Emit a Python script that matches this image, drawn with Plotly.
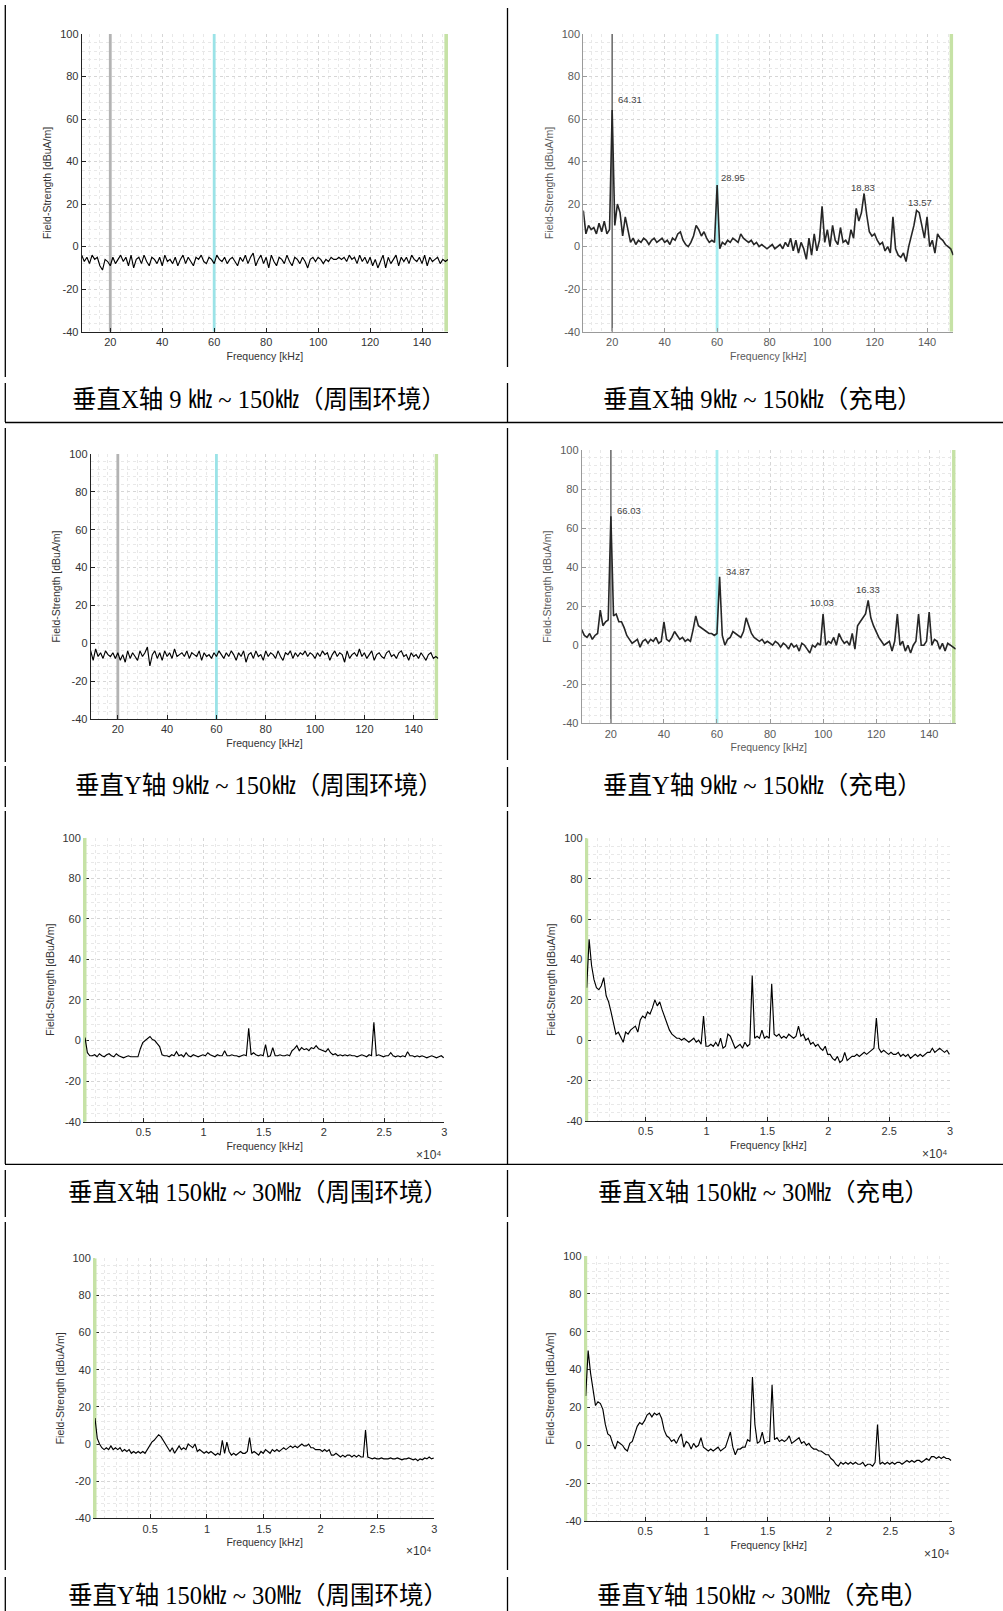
import plotly.graph_objects as go

W, H = 1003, 1611

# ---------------- data ----------------
FREQ_LF = list(range(9, 151))            # kHz, 9 kHz .. 150 kHz
FREQ_HF = list(range(150, 30000, 200))   # kHz, 150 kHz .. 30 MHz

X_AMB_LF = [
    -4, -7, -5, -8, -4, -6, -5, -9, -11, -6,
    -7, -9, -5, -8, -6, -4, -7, -5, -9, -4,
    -10, -6, -5, -8, -4, -7, -9, -5, -6, -8,
    -5, -9, -4, -7, -6, -8, -5, -9, -6, -4,
    -8, -5, -7, -9, -5, -6, -4, -7, -8, -5,
    -6, -8, -4, -6, -7, -5, -8, -6, -5, -7,
    -9, -5, -7, -4, -8, -5, -3, -9, -6, -4,
    -8, -5, -10, -4, -7, -9, -5, -6, -8, -4,
    -7, -9, -5, -6, -8, -5, -7, -10, -6, -5,
    -7, -5, -6, -8, -6, -7, -5, -6, -6, -5,
    -6, -5, -7, -4, -6, -5, -8, -4, -7, -5,
    -8, -5, -9, -6, -10, -7, -4, -10, -5, -8,
    -6, -4, -9, -5, -7, -5, -8, -4, -6, -7,
    -5, -8, -4, -9, -5, -7, -6, -5, -8, -6,
    -7, -6,
]

X_CHG_LF = [
    17, 6, 10, 8, 9, 6, 11, 7, 12, 6,
    8, 64.3, 10, 20, 16, 5, 14, 8, 2, 4,
    1, 3, 2, 4, 3, 1, 3, 4, 2, 3,
    4, 2, 3, 1, 4, 3, 6, 7, 3, 1,
    0, 2, 5, 10, 8, 5, 7, 4, 2, 3,
    2, 29, -1, 2, 1, 3, 2, 4, 3, 2,
    6, 4, 3, 2, 3, 1, 2, 0, 1, 0,
    -1, 0, 1, -1, 0, 1, -1, 2, 0, 4,
    -2, 3, -3, 2, -1, -6, 4, -4, 6, -2,
    3, 19, 2, 8, 0, 10, 3, 1, 9, 2,
    3, 1, 8, 4, 18, 12, 16, 25, 15, 7,
    5, 6, 3, 1, 2, -2, 0, -3, 14, -1,
    -4, -5, -3, -7, 0, 5, 10, 17, 16, 10,
    4, 14, 0, 3, -3, 6, 4, 3, 1, 0,
    -1, -4,
]

Y_AMB_LF = [
    -4, -9, -3, -7, -5, -8, -4, -6, -7, -5,
    -8, -5, -9, -6, -10, -4, -8, -5, -7, -9,
    -4, -7, -5, -2, -12, -6, -4, -8, -5, -9,
    -4, -7, -5, -8, -3, -7, -6, -5, -7, -4,
    -8, -5, -6, -7, -4, -9, -5, -7, -6, -8,
    -5, -7, -4, -6, -8, -5, -7, -4, -6, -9,
    -5, -7, -4, -10, -6, -5, -8, -4, -7, -6,
    -9, -4, -7, -5, -6, -8, -4, -7, -9, -5,
    -6, -4, -8, -5, -7, -5, -6, -4, -7, -5,
    -6, -8, -5, -7, -4, -6, -5, -9, -6, -4,
    -7, -5, -6, -10, -4, -8, -6, -5, -7, -3,
    -7, -5, -8, -6, -4, -9, -6, -5, -7, -8,
    -5, -4, -7, -6, -8, -5, -4, -7, -6, -9,
    -5, -7, -6, -8, -5, -7, -9, -6, -5, -8,
    -7, -8,
]

Y_CHG_LF = [
    8, 5, 4, 6, 3, 5, 6, 18, 10, 12,
    13, 66, 15, 16, 12, 12, 9, 5, 3, 1,
    2, 3, -1, 2, 3, 1, 3, 2, 4, 1,
    2, 12, 3, 2, 4, 7, 5, 3, 4, 2,
    3, 2, 8, 15, 10, 9, 8, 7, 6, 6,
    5, 6, 35, 5, 0, 3, 4, 7, 6, 5,
    4, 7, 14, 10, 6, 4, 3, 2, 3, 1,
    2, 1, 0, 2, 1, -1, 1, 0, -2, 1,
    -1, 0, -3, 1, 0, -2, -4, 0, -1, 1,
    0, 16, 0, 2, 1, 4, 0, 6, 3, 1,
    2, 0, 6, -2, 10, 12, 14, 16, 23, 14,
    10, 7, 4, 2, 0, 1, 2, -3, 2, 16,
    0, 2, -3, 0, -4, 0, 2, 16, 0, 0,
    2, 17, 0, 3, 2, -2, 1, -3, 1, 0,
    -1, -2,
]

X_AMB_HF = [
    1.5, -6, -7.5, -7.5, -7, -8, -6.5, -7.5, -8, -7,
    -6.5, -7.5, -8, -6.5, -7.5, -8, -8.5, -8, -7.5, -8,
    -8, -8, -8, -4, -1, 0, 1, 2, 0.5, 0,
    -1.5, -3, -7, -7.5, -7.5, -8, -7, -7.5, -5.5, -7.5,
    -7, -8, -6, -7.5, -8, -7, -7.5, -8, -7.5, -7,
    -7.5, -6, -7, -7.5, -8, -7, -7.5, -7.5, -5, -7.5,
    -7.5, -7, -7.5, -7.5, -8, -7.5, -7, -7.5, 6, -7,
    -6, -7, -7.5, -7, -7.5, -2, -8, -7.5, -3.5, -7.5,
    -7.5, -7, -7.5, -7.5, -7, -7.5, -5, -4, -2.5, -5,
    -3.5, -4.5, -4, -5, -3.5, -4, -2.5, -4, -4.5, -5,
    -5.5, -4, -6, -7, -6.5, -7.5, -7, -7.5, -7, -7.5,
    -7, -7.5, -7.5, -8, -7.5, -7, -7.5, -8, -7, -7.5,
    9, -7.5, -7, -7.5, -8, -7.5, -7.5, -6, -7.5, -8,
    -7.5, -8, -7.5, -8, -5.5, -7.5, -7.5, -8, -7.5, -8,
    -7.5, -8, -8.5, -8, -7.5, -8, -8.5, -8, -7.5, -8.5,
]

X_CHG_HF = [
    26, 50, 37, 30, 26, 25, 27, 31, 22, 19,
    14, 9, 3, 4, 1, -1, 4, 3, 5, 6,
    7, 4, 10, 12, 11, 14, 13, 16, 20, 17,
    19, 15, 12, 8, 5, 3, 2, 1, 1, 0,
    1, 0, -1, 0, 1, -1, 0, -2, 12, -3,
    -3, -2, -3, -1, -3, 1, -4, -3, 3, 2,
    -1, -4, -3, -2, -4, -1, -3, -2, 32, 1,
    2, 1, 5, 1, 2, 1, 28, 3, 2, 3,
    1, 2, 1, 3, 2, 1, 2, 7, 2, 3,
    0, 1, -2, -1, -3, -2, -4, -5, -3, -7,
    -7, -9, -10, -8, -11, -10, -6, -10, -9, -8,
    -8, -7, -8, -7, -6, -7, -6, -5, -4, 11,
    -4, -6, -5, -6, -7, -6, -7, -7, -6, -8,
    -7, -8, -7, -9, -8, -7, -8, -7, -8, -7,
    -6, -6, -4, -6, -5, -4, -5, -6, -5, -7,
]

Y_AMB_HF = [
    14, 3, 0, -2, -3, -2, -3, -1, -3, -2,
    -3, -2, -4, -3, -4, -3, -5, -4, -5, -4,
    -5, -4, -5, -3, -1, 1, 2, 3.5, 5, 4,
    2, 0, -2, -4, -2, -5, -3, -1, -3, -2,
    -3, 0, -1, -2, 0, -4, -3, -4, -5, -4,
    -5, -4, -5, -6, -5, -6, 2, -5, 1, -4,
    -6, -5, -6, -5, -4, -5, -5, -4, 3.5, -5,
    -4, -5, -6, -4, -5, -3, -4, -5, -3, -4,
    -3, -4, -3, -2, -3, -2, -1, -2, -1, -2,
    -1, 0, -1, -1, 0, -2, -2, -3, -3, -3,
    -4, -3, -4, -3, -6, -6, -5, -6, -7, -6,
    -7, -6, -6, -7, -6, -7, -6, -7, -7, 7.5,
    -7, -7.5, -8, -7.5, -8, -8, -7.5, -8, -8, -8,
    -7.5, -8, -8, -7.5, -8, -8.5, -8, -8, -7.5, -8,
    -8.5, -8, -9, -8, -8.5, -7.5, -8, -7, -8, -7.5,
]

Y_CHG_HF = [
    26, 50, 38, 28, 21, 23, 22, 19, 11, 6,
    5, 1, -2, 2, 1, 0, -2, -3, 1, 2,
    6, 10, 12, 11, 13, 16, 17, 15, 17, 16,
    17, 14, 8, 5, 4, 2, 3, 1, 4, 6,
    -1, 2, 1, -2, 1, -1, 0, 4, -1, -2,
    -3, -2, -3, -2, -1, -3, -2, -1, 3, 7,
    -1, -5, -2, -2, -1, -1, 3, 2, 36, 11,
    1, 2, 7, 1, 2, 2, 32, 3, 4, 2,
    3, 2, 3, 5, 1, 2, 3, 4, 1, 2,
    0, 1, -1, -2, -2, -3, -3, -4, -5, -5,
    -7, -8, -10, -11, -9, -10, -9, -10, -9, -10,
    -9, -10, -10, -9, -11, -10, -10, -11, -9, 11,
    -10, -9, -10, -9, -10, -9, -10, -9, -9, -10,
    -9, -8, -9, -8, -9, -8, -8, -9, -8, -7,
    -8, -6, -6, -7, -6, -7, -6, -7, -7, -8,
]

# marker frequencies (kHz)
MARKERS_LF = [20, 60, 149.3]
MARKER_HF = 150

# peak labels
PEAK_FREQ_X_CHG = [20, 60, 116, 136]
PEAK_TEXT_X_CHG = ["64.31", "28.95", "18.83", "13.57"]
PEAK_FREQ_Y_CHG = [20, 61, 100, 117]
PEAK_TEXT_Y_CHG = ["66.03", "34.87", "10.03", "16.33"]

Y_TICKVALS = [-40, -20, 0, 20, 40, 60, 80, 100]
Y_TICKTEXT = ["-40", "-20", "0", "20", "40", "60", "80", "100"]
HF_TICKVALS = [5000, 10000, 15000, 20000, 25000, 30000]
HF_TICKTEXT = ["0.5", "1", "1.5", "2", "2.5", "3"]
HF_EXPONENT = "×10⁴"

CAPTIONS = [
    "垂直X轴 9 ㎑ ~ 150㎑（周围环境）",
    "垂直X轴 9㎑ ~ 150㎑（充电）",
    "垂直Y轴 9㎑ ~ 150㎑（周围环境）",
    "垂直Y轴 9㎑ ~ 150㎑（充电）",
    "垂直X轴 150㎑ ~ 30㎒（周围环境）",
    "垂直X轴 150㎑ ~ 30㎒（充电）",
    "垂直Y轴 150㎑ ~ 30㎒（周围环境）",
    "垂直Y轴 150㎑ ~ 30㎒（充电）",
]

# ---------------- layout helpers ----------------
SANS = "Liberation Sans, Arial, sans-serif"
SERIF = "Liberation Serif, Noto Sans CJK SC, serif"


def fx(px):
    return px / W


def fy(py):
    return 1 - py / H


# plot boxes in pixels: left, right, top, bottom
BOXES = {
    1: (81.7, 448.0, 34.0, 331.7),
    2: (583.3, 953.3, 34.0, 331.7),
    3: (90.7, 438.3, 454.0, 719.0),
    4: (581.7, 955.7, 450.0, 723.3),
    5: (85.0, 444.3, 837.7, 1121.7),
    6: (586.7, 950.0, 838.3, 1121.0),
    7: (95.0, 434.3, 1258.3, 1518.3),
    8: (585.7, 951.7, 1256.0, 1521.0),
}

CAPTION_POS = [(258.5, 400), (762, 400), (259, 785), (762, 785),
               (258, 1192), (763, 1192), (258, 1595), (762, 1595)]

PANELS = [
    (FREQ_LF, X_AMB_LF, "lf", False),
    (FREQ_LF, X_CHG_LF, "lf", True),
    (FREQ_LF, Y_AMB_LF, "lf", False),
    (FREQ_LF, Y_CHG_LF, "lf", True),
    (FREQ_HF, X_AMB_HF, "hf", False),
    (FREQ_HF, X_CHG_HF, "hf", False),
    (FREQ_HF, Y_AMB_HF, "hf", False),
    (FREQ_HF, Y_CHG_HF, "hf", False),
]

GRID = "#d6d6d6"
MINOR_GRID = "#e8e8e8"
GRAY_M = "#b3b3b3"
CYAN_M = "#9be3e7"
GREEN_M = "#c6e2a6"

fig = go.Figure()
layout = dict(
    width=W, height=H,
    margin=dict(l=0, r=0, t=0, b=0, pad=0, autoexpand=False),
    paper_bgcolor="white", plot_bgcolor="white",
    showlegend=False, hovermode=False,
    annotations=[], shapes=[],
)

for i, (xs, ys, kind, muted) in enumerate(PANELS, start=1):
    L, R, T, B = BOXES[i]
    xa, ya = f"x{i}", f"y{i}"
    axcol = "#9a9a9a" if muted else "#222222"
    txtcol = "#5a5a5a" if muted else "#333333"
    tfont = dict(family=SANS, size=11, color=txtcol)
    ttl_font = dict(family=SANS, size=10.5, color=txtcol)

    common = dict(
        showline=True, linecolor=axcol, linewidth=1, mirror=False,
        ticks="inside", ticklen=4, tickwidth=1, tickcolor=axcol,
        showgrid=True, gridcolor=GRID, griddash="dot", gridwidth=1,
        zeroline=False, tickfont=tfont, fixedrange=True, automargin=False,
    )
    minor = dict(tickmode="linear", tick0=0, showgrid=True,
                 gridcolor=MINOR_GRID, griddash="dot", gridwidth=1)

    if kind == "lf":
        xaxis = dict(common, domain=[fx(L), fx(R)], anchor=ya, range=[9, 150],
                     tickmode="linear", tick0=0, dtick=20,
                     minor=dict(minor, dtick=4),
                     title=dict(text="Frequency [kHz]", font=ttl_font, standoff=5))
    else:
        xaxis = dict(common, domain=[fx(L), fx(R)], anchor=ya, range=[150, 30000],
                     tickmode="array", tickvals=HF_TICKVALS, ticktext=HF_TICKTEXT,
                     minor=dict(minor, dtick=1000),
                     title=dict(text="Frequency [kHz]", font=ttl_font, standoff=5))
    yaxis = dict(common, domain=[fy(B), fy(T)], anchor=xa, range=[-40, 100],
                 tickmode="array", tickvals=Y_TICKVALS, ticktext=Y_TICKTEXT,
                 minor=dict(minor, dtick=4),
                 title=dict(text="Field-Strength [dBuA/m]", font=ttl_font, standoff=6))
    if kind == "hf":
        yaxis["linecolor"] = GREEN_M
        yaxis["linewidth"] = 2
        yaxis["tickcolor"] = "#222222"
        yaxis["layer"] = "below traces"

    layout[f"xaxis{i}"] = xaxis
    layout[f"yaxis{i}"] = yaxis

    # marker lines
    if kind == "lf":
        mcols = ["#707070" if muted else GRAY_M, "#a6ecef" if muted else CYAN_M, GREEN_M]
        mwid = [1.6 if muted else 2.8, 2.8, 3.6]
        for mf, mc, mw in zip(MARKERS_LF, mcols, mwid):
            fig.add_trace(go.Scatter(x=[mf, mf], y=[-40, 100], mode="lines",
                                     line=dict(color=mc, width=mw),
                                     xaxis=xa, yaxis=ya, hoverinfo="skip"))
    else:
        fig.add_trace(go.Scatter(x=[MARKER_HF, MARKER_HF], y=[-40, 100], mode="lines",
                                 line=dict(color=GREEN_M, width=3),
                                 xaxis=xa, yaxis=ya, hoverinfo="skip"))

    # data trace
    fig.add_trace(go.Scatter(
        x=xs, y=ys, mode="lines",
        line=dict(color="#262626" if muted else "black", width=1.6 if muted else 1.15),
        xaxis=xa, yaxis=ya, hoverinfo="skip"))

    if kind == "hf":
        layout["annotations"].append(dict(
            xref=f"{xa} domain", yref=f"{ya} domain", x=1, y=0,
            xanchor="right", yanchor="top", yshift=-24, showarrow=False,
            text=HF_EXPONENT, font=dict(family=SANS, size=12, color="#333333")))

# peak labels
label_style_x = [("left", 4, 10), ("left", 2, 7), ("center", -1, 6), ("center", 3, 8)]
label_style_y = [("left", 4, 6), ("left", 4, 5), ("center", -1, 11), ("center", 0, 11)]
for panel, freqs, texts, series, styles in [
    (2, PEAK_FREQ_X_CHG, PEAK_TEXT_X_CHG, X_CHG_LF, label_style_x),
    (4, PEAK_FREQ_Y_CHG, PEAK_TEXT_Y_CHG, Y_CHG_LF, label_style_y),
]:
    for f, t, (anc, dx, dy) in zip(freqs, texts, styles):
        layout["annotations"].append(dict(
            xref=f"x{panel}", yref=f"y{panel}", x=f, y=series[FREQ_LF.index(f)],
            text=t, showarrow=False, xanchor=anc, yanchor="middle",
            xshift=dx, yshift=dy, font=dict(family=SANS, size=9.5, color="#444444")))

# captions
for (cx, cy), txt in zip(CAPTION_POS, CAPTIONS):
    layout["annotations"].append(dict(
        xref="paper", yref="paper", x=fx(cx), y=fy(cy), text=txt,
        showarrow=False, xanchor="center", yanchor="middle",
        font=dict(family=SERIF, size=24.5, color="black")))

# table rules
LINE = dict(color="black", width=1.3)
V_SEGS = [(5, 377), (383, 422), (428, 762), (766, 807), (811, 1164),
          (1170, 1217), (1222, 1570), (1577, 1611)]
V_SEGS_R = [(8, 367), (383, 422), (428, 760), (767, 807), (811, 1164),
            (1170, 1217), (1222, 1570), (1577, 1611)]
for (a, b) in V_SEGS:
    layout["shapes"].append(dict(type="line", xref="paper", yref="paper",
                                 x0=fx(5.3), x1=fx(5.3), y0=fy(a), y1=fy(b), line=LINE))
for (a, b) in V_SEGS_R:
    layout["shapes"].append(dict(type="line", xref="paper", yref="paper",
                                 x0=fx(507.5), x1=fx(507.5), y0=fy(a), y1=fy(b), line=LINE))
for hy in (422.5, 1164.3):
    layout["shapes"].append(dict(type="line", xref="paper", yref="paper",
                                 x0=fx(5), x1=1, y0=fy(hy), y1=fy(hy), line=LINE))

fig.update_layout(**layout)
fig.write_html("out.html", config={"displayModeBar": False},
               post_script="document.body.style.margin='0px';document.body.style.overflow='hidden';")
